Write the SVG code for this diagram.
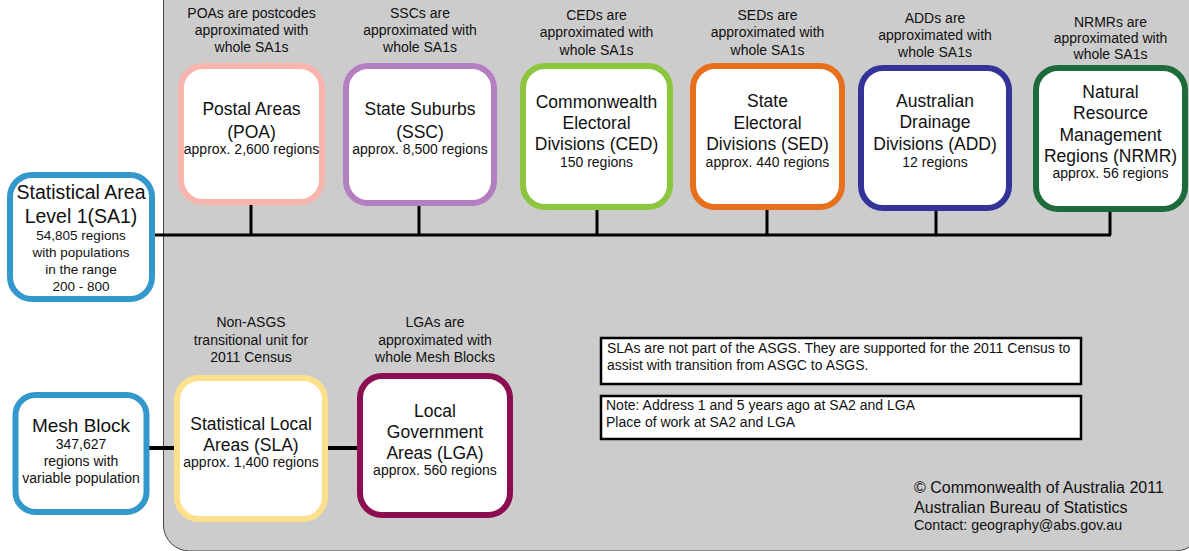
<svg xmlns="http://www.w3.org/2000/svg" width="1189" height="551" viewBox="0 0 1189 551">
<style>
text{font-family:"Liberation Sans",Arial,sans-serif;fill:#111;text-anchor:middle}
.t{font-size:17.5px}
.s{font-size:14px}
.l{font-size:13.5px}
.n{font-size:14px;text-anchor:start}
.c{font-size:16px;text-anchor:start}
.box{fill:#fff;stroke-width:6}
.conn{stroke:#000;stroke-width:3;fill:none}
</style>
<rect width="1189" height="551" fill="#fff"/>
<rect id="panel" x="163.5" y="-30" width="1038" height="581" rx="26" fill="#cccccc" stroke="#444" stroke-width="1"/>
<g id="connectors">
<path class="conn" d="M152 235H1111M251 202V235M419 203V235M597 207V235M767 207V235M936 208V235M1110 209V235"/>
<path class="conn" d="M146 448H177M325 448H360" style="stroke-width:4"/>
</g>
<g id="sa1">
<rect class="box" x="10" y="175" width="142" height="124" rx="22" stroke="#3399cc"/>
<text x="81" y="199" style="font-size:19.5px">Statistical Area</text>
<text x="81" y="223" style="font-size:19.5px">Level 1(SA1)</text>
<text class="l" x="81" y="240">54,805 regions</text>
<text class="l" x="81" y="257">with populations</text>
<text class="l" x="81" y="274">in the range</text>
<text class="l" x="81" y="291">200 - 800</text>
</g>
<g id="mesh">
<rect class="box" x="15.5" y="395" width="131" height="117" rx="20" stroke="#3399cc"/>
<text x="81" y="432" style="font-size:19px">Mesh Block</text>
<text class="s" x="81" y="449">347,627</text>
<text class="s" x="81" y="466">regions with</text>
<text class="s" x="81" y="483">variable population</text>
</g>
<g id="poa">
<text class="s" x="251.5" y="18">POAs are postcodes</text>
<text class="s" x="251.5" y="35">approximated with</text>
<text class="s" x="251.5" y="52">whole SA1s</text>
<rect class="box" x="181" y="66" width="141" height="136" rx="22" stroke="#f7b5ad"/>
<text class="t" x="251.5" y="115">Postal Areas</text>
<text class="t" x="251.5" y="138">(POA)</text>
<text class="s" x="251.5" y="154">approx. 2,600 regions</text>
</g>
<g id="ssc">
<text class="s" x="420" y="18">SSCs are</text>
<text class="s" x="420" y="35">approximated with</text>
<text class="s" x="420" y="52">whole SA1s</text>
<rect class="box" x="346" y="66" width="148" height="137" rx="22" stroke="#b37fc0"/>
<text class="t" x="420" y="115">State Suburbs</text>
<text class="t" x="420" y="138">(SSC)</text>
<text class="s" x="420" y="154">approx. 8,500 regions</text>
</g>
<g id="ced">
<text class="s" x="596.5" y="20">CEDs are</text>
<text class="s" x="596.5" y="37">approximated with</text>
<text class="s" x="596.5" y="55">whole SA1s</text>
<rect class="box" x="523" y="66" width="147" height="141" rx="22" stroke="#8cc63f"/>
<text class="t" x="596.5" y="108">Commonwealth</text>
<text class="t" x="596.5" y="129">Electoral</text>
<text class="t" x="596.5" y="150">Divisions (CED)</text>
<text class="s" x="596.5" y="167">150 regions</text>
</g>
<g id="sed">
<text class="s" x="767.5" y="20">SEDs are</text>
<text class="s" x="767.5" y="37">approximated with</text>
<text class="s" x="767.5" y="55">whole SA1s</text>
<rect class="box" x="693" y="66" width="149" height="141" rx="22" stroke="#e8701c"/>
<text class="t" x="767.5" y="107">State</text>
<text class="t" x="767.5" y="129">Electoral</text>
<text class="t" x="767.5" y="150">Divisions (SED)</text>
<text class="s" x="767.5" y="167">approx. 440 regions</text>
</g>
<g id="add">
<text class="s" x="935" y="23">ADDs are</text>
<text class="s" x="935" y="40">approximated with</text>
<text class="s" x="935" y="57">whole SA1s</text>
<rect class="box" x="861" y="68" width="148" height="140" rx="22" stroke="#333399"/>
<text class="t" x="935" y="107">Australian</text>
<text class="t" x="935" y="128">Drainage</text>
<text class="t" x="935" y="150">Divisions (ADD)</text>
<text class="s" x="935" y="167">12 regions</text>
</g>
<g id="nrmr">
<text class="s" x="1110.5" y="27">NRMRs are</text>
<text class="s" x="1110.5" y="43">approximated with</text>
<text class="s" x="1110.5" y="59">whole SA1s</text>
<rect class="box" x="1036" y="68" width="149" height="141" rx="22" stroke="#1d6b3a"/>
<text class="t" x="1110.5" y="98">Natural</text>
<text class="t" x="1110.5" y="119">Resource</text>
<text class="t" x="1110.5" y="141">Management</text>
<text class="t" x="1110.5" y="162">Regions (NRMR)</text>
<text class="s" x="1110.5" y="178">approx. 56 regions</text>
</g>
<g id="sla">
<text class="s" x="251" y="327">Non-ASGS</text>
<text class="s" x="251" y="345">transitional unit for</text>
<text class="s" x="251" y="362">2011 Census</text>
<rect class="box" x="177" y="378" width="148" height="141" rx="22" stroke="#fde08c"/>
<text class="t" x="251" y="430">Statistical Local</text>
<text class="t" x="251" y="451">Areas (SLA)</text>
<text class="s" x="251" y="467">approx. 1,400 regions</text>
</g>
<g id="lga">
<text class="s" x="435" y="327">LGAs are</text>
<text class="s" x="435" y="345">approximated with</text>
<text class="s" x="435" y="362">whole Mesh Blocks</text>
<rect class="box" x="360" y="376" width="150" height="139" rx="22" stroke="#8c0e50"/>
<text class="t" x="435" y="417">Local</text>
<text class="t" x="435" y="438">Government</text>
<text class="t" x="435" y="459">Areas (LGA)</text>
<text class="s" x="435" y="475">approx. 560 regions</text>
</g>
<g id="note1">
<rect x="601" y="338" width="480" height="46" fill="#fff" stroke="#000" stroke-width="2.5"/>
<text class="n" x="607" y="353">SLAs are not part of the ASGS. They are supported for the 2011 Census to</text>
<text class="n" x="607" y="370">assist with transition from ASGC to ASGS.</text>
</g>
<g id="note2">
<rect x="601" y="396" width="480" height="43" fill="#fff" stroke="#000" stroke-width="2.5"/>
<text class="n" x="606" y="410">Note: Address 1 and 5 years ago at SA2 and LGA</text>
<text class="n" x="606" y="427">Place of work at SA2 and LGA</text>
</g>
<g id="copyright">
<text class="c" x="914" y="493">© Commonwealth of Australia 2011</text>
<text class="c" x="914" y="513">Australian Bureau of Statistics</text>
<text class="c" x="914" y="530" style="font-size:14.3px">Contact: geography@abs.gov.au</text>
</g>
</svg>
